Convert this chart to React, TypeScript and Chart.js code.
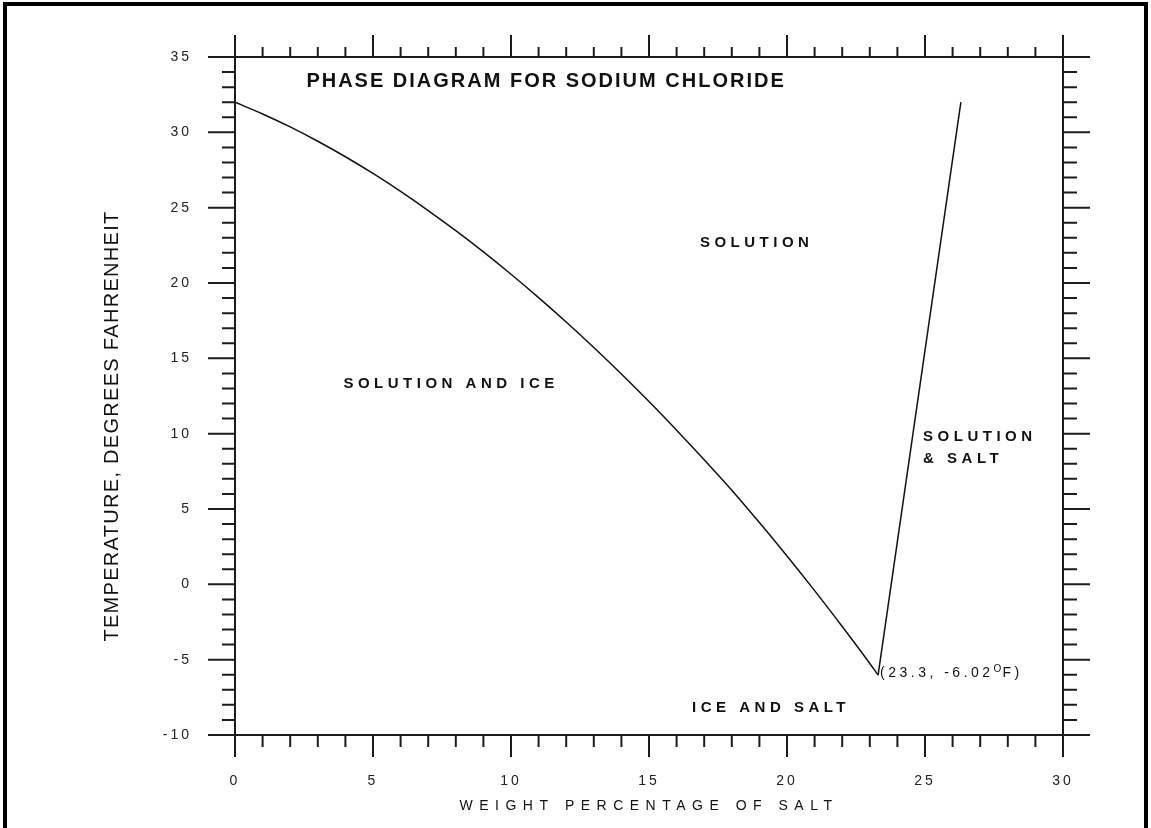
import React, { useEffect, useRef } from "react";
import { Chart, registerables } from "chart.js";

Chart.register(...registerables);

// ---- data ----
const saltPercent = [0, 1, 2, 3, 4, 5, 6, 7, 8, 9, 10, 11, 12, 13, 14, 15, 16, 17, 18, 19, 20, 21, 22, 23, 23.3];
const freezingTempF = [32, 31.22, 30.36, 29.41, 28.38, 27.27, 26.08, 24.81, 23.47, 22.06, 20.58, 19.03, 17.41, 15.72, 13.96, 12.13, 10.23, 8.27, 6.25, 4.1, 1.88, -0.42, -2.8, -5.25, -6.02];
const solubilityPercent = [23.3, 26.3];
const solubilityTempF = [-6.02, 32];
const xTickValues = [0, 5, 10, 15, 20, 25, 30];
const yTickValues = [-10, -5, 0, 5, 10, 15, 20, 25, 30, 35];

const titleText = "PHASE DIAGRAM FOR SODIUM CHLORIDE";
const xTitle = "WEIGHT PERCENTAGE OF SALT";
const yTitle = "TEMPERATURE, DEGREES FAHRENHEIT";

// region labels (anchor in data units)
const regionLabels = [
  { text: "SOLUTION", x: 18.9, y: 22.65, align: "center" },
  { text: "SOLUTION AND ICE", x: 7.83, y: 13.3, align: "center" },
  { text: "SOLUTION", x: 24.93, y: 9.78, align: "left" },
  { text: "& SALT", x: 24.93, y: 8.32, align: "left" },
  { text: "ICE AND SALT", x: 19.42, y: -8.2, align: "center" },
];
const eutecticLabel = { x: 23.37, y: -5.88, pre: "(23.3, -6.02", sup: "O", post: "F)" };
const titleAnchor = { x: 11.27, y: 33.4 };

const FONT = "'Liberation Sans', Arial, sans-serif";

const framePlugin = {
  id: "framePlugin",
  beforeDraw(chart: any) {
    const ctx = chart.ctx;
    ctx.save();
    ctx.fillStyle = "#ffffff";
    ctx.fillRect(0, 0, chart.width, chart.height);
    ctx.restore();
    (ctx as any).letterSpacing = "3px";
  },
  afterDraw(chart: any) {
    const ctx = chart.ctx as any;
    ctx.letterSpacing = "0px";
    const xs = chart.scales.x;
    const ys = chart.scales.y;
    const { left, right, top, bottom } = chart.chartArea;
    ctx.save();
    ctx.strokeStyle = "#1c1c1c";
    ctx.lineWidth = 2;
    ctx.strokeRect(left, top, right - left, bottom - top);
    ctx.beginPath();
    for (let i = 0; i <= 30; i++) {
      const px = xs.getPixelForValue(i);
      const major = i % 5 === 0;
      ctx.moveTo(px, bottom);
      ctx.lineTo(px, bottom + (major ? 22 : 12));
      ctx.moveTo(px, top);
      ctx.lineTo(px, top - (major ? 22 : 10));
    }
    for (let j = -10; j <= 35; j++) {
      const py = ys.getPixelForValue(j);
      const major = j % 5 === 0;
      ctx.moveTo(left, py);
      ctx.lineTo(left - (major ? 27 : 13), py);
      ctx.moveTo(right, py);
      ctx.lineTo(right + (major ? 27 : 14), py);
    }
    ctx.stroke();

    ctx.fillStyle = "#111111";
    // title
    ctx.font = `bold 20px ${FONT}`;
    ctx.letterSpacing = "2px";
    ctx.textAlign = "center";
    ctx.textBaseline = "middle";
    ctx.fillText(titleText, xs.getPixelForValue(titleAnchor.x), ys.getPixelForValue(titleAnchor.y));

    // region labels
    ctx.font = `bold 15px ${FONT}`;
    ctx.letterSpacing = "4.5px";
    for (const l of regionLabels) {
      ctx.textAlign = l.align;
      ctx.fillText(l.text, xs.getPixelForValue(l.x), ys.getPixelForValue(l.y));
    }

    // eutectic label
    ctx.font = `14px ${FONT}`;
    ctx.letterSpacing = "3.5px";
    ctx.textAlign = "left";
    let ex = xs.getPixelForValue(eutecticLabel.x);
    const ey = ys.getPixelForValue(eutecticLabel.y);
    ctx.fillText(eutecticLabel.pre, ex, ey);
    ex += ctx.measureText(eutecticLabel.pre).width;
    ctx.font = `10px ${FONT}`;
    ctx.letterSpacing = "1px";
    ctx.fillText(eutecticLabel.sup, ex, ey - 4);
    ex += ctx.measureText(eutecticLabel.sup).width;
    ctx.font = `14px ${FONT}`;
    ctx.letterSpacing = "3.5px";
    ctx.fillText(eutecticLabel.post, ex, ey);

    // axis titles
    ctx.font = `14px ${FONT}`;
    ctx.letterSpacing = "6.5px";
    ctx.textAlign = "center";
    ctx.fillText(xTitle, (left + right) / 2, 806);

    ctx.save();
    ctx.translate(112, (top + bottom) / 2 + 30);
    ctx.rotate(-Math.PI / 2);
    ctx.font = `20px ${FONT}`;
    ctx.letterSpacing = "1.3px";
    ctx.fillText(yTitle, 0, 0);
    ctx.restore();

    // outer frame
    ctx.fillStyle = "#000000";
    ctx.fillRect(3, 2, 4, chart.height);
    ctx.fillRect(3, 2, chart.width - 6, 4);
    ctx.fillRect(chart.width - 7, 2, 4, chart.height);
    ctx.restore();
  },
};

export default function App() {
  const ref = useRef<HTMLCanvasElement>(null);
  useEffect(() => {
    if (!ref.current) return;
    const chart = new Chart(ref.current, {
      type: "line",
      data: {
        datasets: [
          {
            data: saltPercent.map((x, i) => ({ x, y: freezingTempF[i] })),
            borderColor: "#111111",
            borderWidth: 1.5,
            pointRadius: 0,
            cubicInterpolationMode: "monotone",
            fill: false,
          },
          {
            data: solubilityPercent.map((x, i) => ({ x, y: solubilityTempF[i] })),
            borderColor: "#111111",
            borderWidth: 1.5,
            pointRadius: 0,
            tension: 0,
            fill: false,
          },
        ],
      },
      options: {
        responsive: false,
        maintainAspectRatio: false,
        animation: false,
        layout: { padding: { top: 57, right: 88, left: 0, bottom: 0 } },
        plugins: { legend: { display: false }, tooltip: { enabled: false }, title: { display: false } },
        scales: {
          x: {
            type: "linear",
            min: 0,
            max: 30,
            afterBuildTicks: (s: any) => {
              s.ticks = xTickValues.map((v) => ({ value: v }));
            },
            afterFit: (s: any) => {
              s.height = 93;
            },
            grid: { display: false },
            border: { display: false },
            ticks: { padding: 30, color: "#222222", font: { family: FONT, size: 14 }, maxRotation: 0 },
          },
          y: {
            type: "linear",
            min: -10,
            max: 35,
            afterBuildTicks: (s: any) => {
              s.ticks = yTickValues.map((v) => ({ value: v }));
            },
            afterFit: (s: any) => {
              s.width = 235;
            },
            grid: { display: false },
            border: { display: false },
            ticks: { padding: 35, color: "#222222", font: { family: FONT, size: 14 } },
          },
        },
      },
      plugins: [framePlugin],
    } as any);
    return () => chart.destroy();
  }, []);
  return (
    <div style={{ position: "absolute", left: 0, top: 0, width: 1151, height: 828, background: "#fff" }}>
      <canvas ref={ref} width={1151} height={828} style={{ display: "block" }} />
    </div>
  );
}
